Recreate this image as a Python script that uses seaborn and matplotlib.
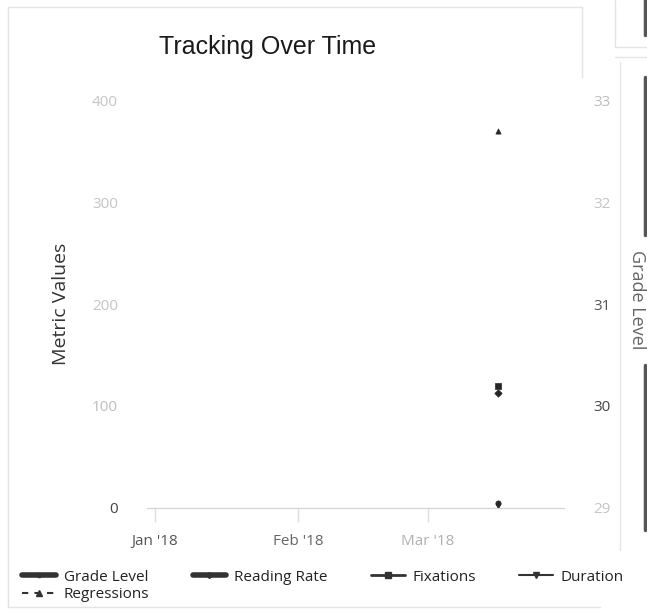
import pandas as pd
import matplotlib.pyplot as plt
from matplotlib.lines import Line2D
import seaborn as sns

# дані (один замір у березні)
dates = ['2018-03-16']
grade_level = [29.05]     # права вісь
reading_rate = [113]
fixations = [120]
duration = [370]
regressions = [2]

series_names = ['Grade Level', 'Reading Rate', 'Fixations', 'Duration', 'Regressions']
series_markers = ['o', 'D', 's', '^', 'v']

x_ticks = ['2018-01-01', '2018-02-01', '2018-03-01']
x_tick_labels = ["Jan '18", "Feb '18", "Mar '18"]
x_tick_colors = ['#555555', '#666666', '#b0b0b0']
left_ticks = [0, 100, 200, 300, 400]
left_tick_colors = ['#444444', '#bdbdbd', '#c4c4c4', '#c4c4c4', '#c4c4c4']
right_ticks = [29, 30, 31, 32, 33]
right_tick_colors = ['#c4c4c4', '#444444', '#555555', '#c4c4c4', '#bdbdbd']

df = pd.DataFrame({
    'date': pd.to_datetime(dates),
    'Grade Level': grade_level,
    'Reading Rate': reading_rate,
    'Fixations': fixations,
    'Duration': duration,
    'Regressions': regressions,
})

sns.set_style('white')
plt.rcParams['font.family'] = ['Open Sans', 'DejaVu Sans']

fig = plt.figure(figsize=(6.47, 6.11), dpi=100)
ax = fig.add_axes([0.2272, 0.1686, 0.6445, 0.6677])
ax2 = ax.twinx()

dark = '#262626'

# ліва вісь - метрики
for name, mk in zip(series_names[1:], series_markers[1:]):
    sns.scatterplot(data=df, x='date', y=name, marker=mk, s=14, color=dark,
                    edgecolor=dark, linewidth=0.5, ax=ax, zorder=3)
# права вісь - рівень
sns.scatterplot(data=df, x='date', y='Grade Level', marker='o', s=14, color=dark,
                edgecolor=dark, linewidth=0.5, ax=ax2, zorder=3)

ax.set_xlim(pd.Timestamp('2017-12-30 08:00'), pd.Timestamp('2018-03-30 08:00'))
ax.set_ylim(0, 400)
ax2.set_ylim(29, 33)

ax.set_xticks(pd.to_datetime(x_ticks))
ax.set_xticklabels(x_tick_labels, fontsize=11)
for lab, c in zip(ax.get_xticklabels(), x_tick_colors):
    lab.set_color(c)
ax.tick_params(axis='x', bottom=True, length=10, width=1, color='#dddddd', pad=9)

ax.set_yticks(left_ticks)
ax.set_yticklabels([str(v) for v in left_ticks], fontsize=11)
for lab, c in zip(ax.get_yticklabels(), left_tick_colors):
    lab.set_color(c)
ax.tick_params(axis='y', length=0, pad=21)

ax2.set_yticks(right_ticks)
ax2.set_yticklabels([str(v) for v in right_ticks], fontsize=11)
for lab, c in zip(ax2.get_yticklabels(), right_tick_colors):
    lab.set_color(c)
ax2.tick_params(axis='y', length=0, pad=21)
ax2.tick_params(axis='x', bottom=False)

for a in (ax, ax2):
    for side in ['top', 'left', 'right']:
        a.spines[side].set_visible(False)
    a.spines['bottom'].set_color('#d4d4d4')
    a.set_xlabel('')
    a.set_ylabel('')
    a.grid(False)

ax.set_ylabel('Metric Values', fontsize=14, color='#333333')
ax.yaxis.set_label_coords(-0.185, 0.5)
fig.text(637 / 647, 1 - 300 / 611, 'Grade Level', rotation=270, fontsize=13,
         color='#666666', ha='center', va='center')

fig.text(268 / 647, 1 - 47 / 611, 'Tracking Over Time', fontsize=18,
         family=['Liberation Sans', 'DejaVu Sans'], color='#1a1a1a',
         ha='center', va='center')

# легенда внизу (matplotlib заповнює по стовпцях)
handles = {
    'Grade Level': Line2D([], [], color='#333333', lw=4, marker='o', ms=3),
    'Reading Rate': Line2D([], [], color='#333333', lw=4, marker='D', ms=3),
    'Fixations': Line2D([], [], color='#333333', lw=2, marker='s', ms=4),
    'Duration': Line2D([], [], color='#333333', lw=1.5, marker='v', ms=4),
    'Regressions': Line2D([], [], color='#333333', lw=1.5, ls=(0, (3, 3)), marker='^', ms=4),
}
legend_order = ['Grade Level', 'Regressions', 'Reading Rate', 'Fixations', 'Duration']
fig.legend([handles[n] for n in legend_order], legend_order, loc='upper left',
           bbox_to_anchor=(0.018, 1 - 559 / 611), ncol=4, frameon=False, fontsize=11,
           handlelength=2.2, handletextpad=0.5, columnspacing=2.85, labelspacing=0.15,
           borderpad=0.2, labelcolor='#222222')

# рамки сусідніх панелей сторінки
light = '#e4e4e4'
frame = [
    ([8, 8], [7, 607], light, 1),
    ([8, 582], [7, 7], light, 1),
    ([582, 582], [7, 77], light, 1),
    ([8, 600], [607, 607], light, 1),
    ([620, 620], [62, 550], light, 1),
    ([615, 615], [0, 47], light, 1),
    ([615, 647], [47, 47], light, 1),
    ([615, 647], [57, 57], light, 1),
    ([645, 645], [0, 35], '#555555', 2.5),
    ([645, 645], [77, 235], '#555555', 2.5),
    ([645, 645], [365, 530], '#555555', 2.5),
]
for xs, ys, c, w in frame:
    fig.add_artist(Line2D([v / 647 for v in xs], [1 - v / 611 for v in ys],
                          color=c, lw=w, transform=fig.transFigure))

fig.savefig('out.png', dpi=100)
